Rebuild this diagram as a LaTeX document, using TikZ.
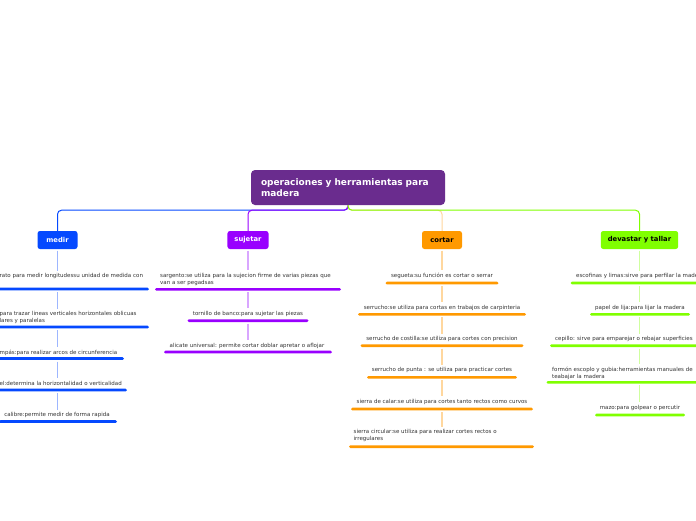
\documentclass[tikz,border=0pt]{standalone}
\usepackage{fontspec}
\setmainfont{DejaVu Sans}
\definecolor{rootc}{HTML}{6A2C8E}
\definecolor{medirc}{HTML}{0549FF}
\definecolor{medirl}{HTML}{9DB6FF}
\definecolor{sujc}{HTML}{9900FF}
\definecolor{sujl}{HTML}{D9A6FF}
\definecolor{cortc}{HTML}{FF9900}
\definecolor{cortl}{HTML}{FFD79E}
\definecolor{devc}{HTML}{80FF00}
\definecolor{devl}{HTML}{CFFF9E}
\definecolor{txtc}{HTML}{333333}
\tikzset{
  rootbox/.style={fill=rootc, rounded corners=4pt, text=white, align=left,
    font=\fontsize{9}{10.8}\selectfont\bfseries, text width=174pt,
    minimum height=35pt, inner xsep=10pt, inner ysep=3pt},
  branch/.style={fill=#1, rounded corners=2.5pt, minimum height=18pt,
    minimum width=40pt, inner xsep=7pt, inner ysep=0pt,
    font=\fontsize{6.8}{8}\selectfont\bfseries},
  itemtxt/.style={font=\fontsize{5.5}{7}\selectfont, text=txtc, inner sep=0pt, align=left},
  ul/.style={fill=#1, rounded corners=1.3pt, minimum height=2.6pt, inner sep=0pt},
  vl/.style={draw=#1, line width=1.2pt, shorten <=1.5pt, shorten >=2.5pt},
  conn/.style={draw=#1, line width=1pt, rounded corners=4pt},
}
\begin{document}
\begin{tikzpicture}[x=1pt,y=-1pt]
\useasboundingbox (0,0) rectangle (696,520);
\clip (0,0) rectangle (696,520);
\fill[white] (0,0) rectangle (696,520);

% root and branches
\node[rootbox] (root) at (348,187.5) {operaciones y herramientas para\\madera};
\node[branch=medirc, text=white] (medir) at (57.5,240) {medir};
\node[branch=sujc, text=white] (suj) at (248,240) {sujetar};
\node[branch=cortc, text=black] (cort) at (442,240) {cortar};
\node[branch=devc, text=black] (dev) at (639.5,240) {devastar y tallar};

% top connectors
\draw[conn=medirc] (root.south) -- ++(0,5) -| (medir.north);
\draw[conn=sujc] (root.south) -- ++(0,5) -| (suj.north);
\draw[conn=cortl] (root.south) -- ++(0,5) -| (cort.north);
\draw[conn=devc] (root.south) -- ++(0,5) -| (dev.north);

% ---------------- medir
\node[itemtxt, anchor=base west] (m1) at (-0.5,277.5) {rato para medir longitudessu unidad de medida con};
\node[ul=medirc, minimum width=182pt] (m1u) at (58,289) {};
\node[itemtxt, anchor=base west] (m2) at (-0.5,322.5) {para trazar lineas verticales horizontales oblicuas\\lares y paralelas};
\node[ul=medirc, minimum width=182pt] (m2u) at (58,327) {};
\node[itemtxt, anchor=base west] (m3) at (-0.5,354) {mpás:para realizar arcos de circunferencia};
\node[ul=medirc, minimum width=132pt] (m3u) at (58,358.5) {};
\node[itemtxt, anchor=base west] (m4) at (-0.5,385) {el:determina la horizontalidad o verticalidad};
\node[ul=medirc, minimum width=138pt] (m4u) at (58,390) {};
\node[itemtxt, anchor=base] (m5) at (57,416.5) {calibre:permite medir de forma rapida};
\node[ul=medirc, minimum width=118pt] (m5u) at (58,421.5) {};
\draw[vl=medirl] (medir.south) -- (medir.south |- m1.north);
\draw[vl=medirl] (medir.south |- m1u.south) -- (medir.south |- m2.north);
\draw[vl=medirl] (medir.south |- m2u.south) -- (medir.south |- m3.north);
\draw[vl=medirl] (medir.south |- m3u.south) -- (medir.south |- m4.north);
\draw[vl=medirl] (medir.south |- m4u.south) -- (medir.south |- m5.north);

% ---------------- sujetar
\node[itemtxt, anchor=base west] (s1) at (160,284) {sargento:se utiliza para la sujecion firme de varias piezas que\\van a ser pegadsas};
\node[ul=sujc, minimum width=186pt] (s1u) at (248,289.3) {};
\node[itemtxt, anchor=base] (s2) at (248,315) {tornillo de banco:para sujetar las piezas};
\node[ul=sujc, minimum width=121pt] (s2u) at (248,320.7) {};
\node[itemtxt, anchor=base] (s3) at (247,347) {alicate universal: permite cortar doblar apretar o aflojar};
\node[ul=sujc, minimum width=168pt] (s3u) at (248,352) {};
\draw[vl=sujl] (suj.south) -- (suj.south |- s1.north);
\draw[vl=sujl] (suj.south |- s1u.south) -- (suj.south |- s2.north);
\draw[vl=sujl] (suj.south |- s2u.south) -- (suj.south |- s3.north);

% ---------------- cortar
\node[itemtxt, anchor=base] (c1) at (442,277.5) {segueta:su función es cortar o serrar};
\node[ul=cortc, minimum width=113pt] (c1u) at (442,283) {};
\node[itemtxt, anchor=base] (c2) at (442,309) {serrucho:se utiliza para cortas en trabajos de carpinteria};
\node[ul=cortc, minimum width=168pt] (c2u) at (442,314.3) {};
\node[itemtxt, anchor=base] (c3) at (442,340.5) {serrucho de costilla:se utiliza para cortes con precision};
\node[ul=cortc, minimum width=163pt] (c3u) at (442,345.7) {};
\node[itemtxt, anchor=base] (c4) at (442,371.5) {serrucho de punta : se utiliza para practicar cortes};
\node[ul=cortc, minimum width=150pt] (c4u) at (442,377.3) {};
\node[itemtxt, anchor=base] (c5) at (442,403) {sierra de calar:se utiliza para cortes tanto rectos como curvos};
\node[ul=cortc, minimum width=182pt] (c5u) at (442,409) {};
\node[itemtxt, anchor=base west] (c6) at (353.5,440.5) {sierra circular:se utiliza para realizar cortes rectos o\\irregulares};
\node[ul=cortc, minimum width=185pt] (c6u) at (441.5,446.7) {};
\draw[vl=cortl] (cort.south) -- (cort.south |- c1.north);
\draw[vl=cortl] (cort.south |- c1u.south) -- (cort.south |- c2.north);
\draw[vl=cortl] (cort.south |- c2u.south) -- (cort.south |- c3.north);
\draw[vl=cortl] (cort.south |- c3u.south) -- (cort.south |- c4.north);
\draw[vl=cortl] (cort.south |- c4u.south) -- (cort.south |- c5.north);
\draw[vl=cortl] (cort.south |- c5u.south) -- (cort.south |- c6.north);

% ---------------- devastar y tallar
\node[itemtxt, anchor=base west] (d1) at (576,277.5) {escofinas y limas:sirve para perfilar la madera};
\node[ul=devc, minimum width=139pt] (d1u) at (640,283) {};
\node[itemtxt, anchor=base] (d2) at (640,309) {papel de lija:para lijar la madera};
\node[ul=devc, minimum width=100pt] (d2u) at (640,314.3) {};
\node[itemtxt, anchor=base west] (d3) at (555,340.5) {cepillo: sirve para emparejar o rebajar superficies};
\node[ul=devc, minimum width=180pt] (d3u) at (640,345.7) {};
\node[itemtxt, anchor=base west] (d4) at (552,378) {formón escoplo y gubia:herramientas manuales de\\teabajar la madera};
\node[ul=devc, minimum width=187pt] (d4u) at (640,382.3) {};
\node[itemtxt, anchor=base] (d5) at (640,409) {mazo:para golpear o percutir};
\node[ul=devc, minimum width=90pt] (d5u) at (640,415) {};
\draw[vl=devl] (dev.south) -- (dev.south |- d1.north);
\draw[vl=devl] (dev.south |- d1u.south) -- (dev.south |- d2.north);
\draw[vl=devl] (dev.south |- d2u.south) -- (dev.south |- d3.north);
\draw[vl=devl] (dev.south |- d3u.south) -- (dev.south |- d4.north);
\draw[vl=devl] (dev.south |- d4u.south) -- (dev.south |- d5.north);
\end{tikzpicture}
\end{document}
